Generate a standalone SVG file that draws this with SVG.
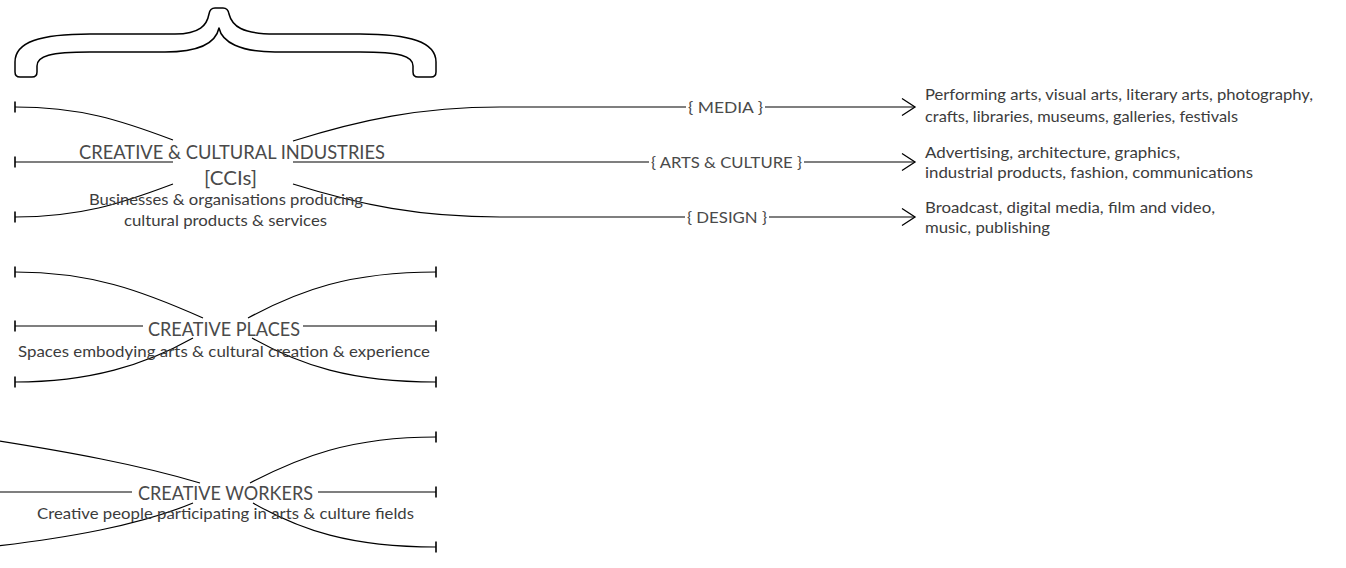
<svg xmlns="http://www.w3.org/2000/svg" width="1346" height="568" viewBox="0 0 1346 568">
  <style>
    .edge { fill: none; stroke: #000; stroke-width: 1.2; }
    .brace { fill: #fff; stroke: #000; stroke-width: 1.5; stroke-linejoin: round; }
    text { font-family: "Lato", "Open Sans", "Liberation Sans", sans-serif; fill: #3c3c3c; }
    .title { font-size: 19px; fill: #4a4a4a; text-anchor: middle; }
    .sub { font-size: 16px; text-anchor: middle; }
    .label { font-size: 15.5px; fill: #4a4a4a; text-anchor: middle; }
    .desc { font-size: 15px; }
  </style>
  <defs>
    <marker id="tick" markerUnits="userSpaceOnUse" markerWidth="4" markerHeight="14" refX="2" refY="7" orient="auto" viewBox="0 0 4 14">
      <line x1="2" y1="1.5" x2="2" y2="12.5" stroke="#000" stroke-width="1.6"/>
    </marker>
    <marker id="chevron" markerUnits="userSpaceOnUse" markerWidth="16" markerHeight="20" refX="14" refY="10" orient="auto" viewBox="0 0 16 20">
      <path d="M1,1.5 L14,10 L1,18.5" fill="none" stroke="#000" stroke-width="1.3"/>
    </marker>
  </defs>

  <!-- curly brace over the three groups -->
  <g id="brace">
    <path class="brace" d="M15,70 L15,62 C15,42 40,34 90,34 L175,34 C200,34 207,25 209,14 Q210,8 215,8 L223,8 Q228,8 229,14 C232,26 242,34 275,34 L360,34 C410,34 436,42 436,62 L436,72 Q436,77 431,77 L418,77 Q413,77 413,72 L413,66 C413,56 400,52 360,52 L275,52 C240,52 222,42 219,28 C216,42 200,52 165,52 L90,52 C50,52 37,56 37,66 L37,72 Q37,77 32,77 L20,77 Q15,77 15,72 Z"/>
  </g>

  <g id="connectors">
    <!-- creative & cultural industries: left stubs -->
    <path class="edge" marker-end="url(#tick)" d="M173,140 C120,120 80,107 15,107"/>
    <path class="edge" marker-end="url(#tick)" d="M173,162 L15,162"/>
    <path class="edge" marker-end="url(#tick)" d="M173,184 C120,204 80,217 15,217"/>
    <!-- creative & cultural industries: branches -->
    <path class="edge" d="M293,141 C360,120 420,107 500,107 L686,107"/>
    <path class="edge" marker-end="url(#chevron)" d="M765,107 L915,107"/>
    <path class="edge" d="M293,162 L649,162"/>
    <path class="edge" marker-end="url(#chevron)" d="M804,162 L915,162"/>
    <path class="edge" d="M293,184 C360,205 420,217 500,217 L685,217"/>
    <path class="edge" marker-end="url(#chevron)" d="M769,217 L915,217"/>

    <!-- creative places -->
    <path class="edge" marker-end="url(#tick)" d="M203,318 C140,290 90,272 15,272"/>
    <path class="edge" marker-end="url(#tick)" d="M143,326 L15,326"/>
    <path class="edge" marker-end="url(#tick)" d="M193,338 C145,365 90,382 15,382"/>
    <path class="edge" marker-end="url(#tick)" d="M248,318 C300,290 350,272 436,272"/>
    <path class="edge" marker-end="url(#tick)" d="M303,326 L436,326"/>
    <path class="edge" marker-end="url(#tick)" d="M252,338 C300,365 350,382 436,382"/>

    <!-- creative workers -->
    <path class="edge" d="M200,483 C140,465 70,452 -20,438"/>
    <path class="edge" d="M132,492 L-5,492"/>
    <path class="edge" d="M193,503 C140,525 70,538 -20,548"/>
    <path class="edge" marker-end="url(#tick)" d="M250,483 C300,457 350,437 436,437"/>
    <path class="edge" marker-end="url(#tick)" d="M318,492 L436,492"/>
    <path class="edge" marker-end="url(#tick)" d="M253,503 C300,530 350,547 436,547"/>
  </g>

  <g id="node-ccis">
    <text class="title" x="232" y="159" textLength="306" lengthAdjust="spacingAndGlyphs">CREATIVE &amp; CULTURAL INDUSTRIES</text>
    <text class="title" x="230.5" y="185" textLength="53" lengthAdjust="spacingAndGlyphs">[CCIs]</text>
    <text class="sub" x="226" y="205" textLength="274" lengthAdjust="spacingAndGlyphs">Businesses &amp; organisations producing</text>
    <text class="sub" x="225.5" y="225.5" textLength="203" lengthAdjust="spacingAndGlyphs">cultural products &amp; services</text>
  </g>

  <g id="node-media">
    <text class="label" x="725.5" y="113" textLength="75" lengthAdjust="spacingAndGlyphs">{ MEDIA }</text>
  </g>
  <g id="node-arts">
    <text class="label" x="726.5" y="168" textLength="151" lengthAdjust="spacingAndGlyphs">{ ARTS &amp; CULTURE }</text>
  </g>
  <g id="node-design">
    <text class="label" x="727" y="223" textLength="80" lengthAdjust="spacingAndGlyphs">{ DESIGN }</text>
  </g>

  <g id="node-media-list">
    <text class="desc" x="925" y="100" textLength="388" lengthAdjust="spacingAndGlyphs">Performing arts, visual arts, literary arts, photography,</text>
    <text class="desc" x="925" y="122" textLength="313" lengthAdjust="spacingAndGlyphs">crafts, libraries, museums, galleries, festivals</text>
  </g>
  <g id="node-arts-list">
    <text class="desc" x="925" y="158" textLength="255" lengthAdjust="spacingAndGlyphs">Advertising, architecture, graphics,</text>
    <text class="desc" x="925" y="178" textLength="328" lengthAdjust="spacingAndGlyphs">industrial products, fashion, communications</text>
  </g>
  <g id="node-design-list">
    <text class="desc" x="925" y="213" textLength="290" lengthAdjust="spacingAndGlyphs">Broadcast, digital media, film and video,</text>
    <text class="desc" x="925" y="233" textLength="125" lengthAdjust="spacingAndGlyphs">music, publishing</text>
  </g>

  <g id="node-places">
    <text class="title" x="224" y="336" textLength="152" lengthAdjust="spacingAndGlyphs">CREATIVE PLACES</text>
    <text class="sub" x="224" y="357" textLength="412" lengthAdjust="spacingAndGlyphs">Spaces embodying arts &amp; cultural creation &amp; experience</text>
  </g>

  <g id="node-workers">
    <text class="title" x="225.5" y="500" textLength="175" lengthAdjust="spacingAndGlyphs">CREATIVE WORKERS</text>
    <text class="sub" x="225.5" y="519" textLength="377" lengthAdjust="spacingAndGlyphs">Creative people participating in arts &amp; culture fields</text>
  </g>
</svg>
